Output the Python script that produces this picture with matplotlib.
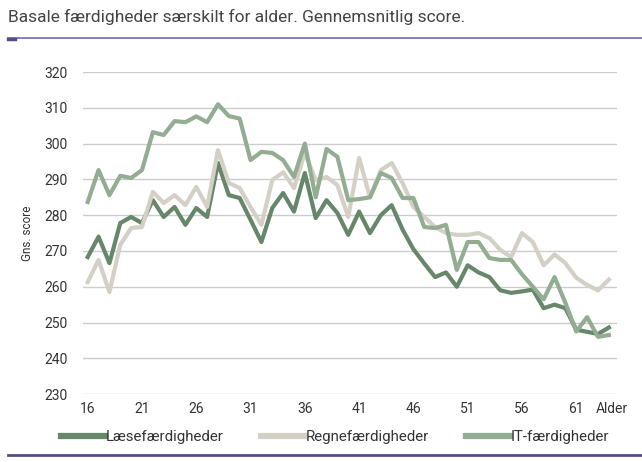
import numpy as np
import matplotlib
matplotlib.use("Agg")
import matplotlib.pyplot as plt
from matplotlib.lines import Line2D

plt.rcParams['font.family'] = ['Roboto', 'DejaVu Sans']

# data
ages = list(range(16, 65))
laese = [268.3, 274.0, 266.6, 277.8, 279.5, 277.8, 284.2, 279.5, 282.3, 277.3,
         282.0, 279.5, 294.6, 285.6, 284.8, 278.7, 272.5, 282.0, 286.2, 281.0,
         291.8, 279.2, 284.2, 280.6, 274.5, 281.0, 275.0, 280.0, 282.8, 276.0,
         270.5, 266.5, 262.7, 264.0, 260.0, 266.0, 264.0, 262.7, 259.0, 258.3,
         258.7, 259.2, 254.0, 255.0, 254.0, 248.0, 247.4, 246.8, 248.6]
regne = [261.3, 267.5, 258.5, 271.7, 276.4, 276.7, 286.5, 283.4, 285.6, 282.8,
         287.9, 282.3, 298.2, 289.0, 287.6, 282.3, 277.3, 289.8, 292.0, 287.6,
         297.4, 289.8, 290.7, 288.4, 279.5, 296.0, 285.0, 292.6, 294.6, 289.0,
         282.3, 279.5, 276.7, 275.0, 274.5, 274.5, 275.0, 273.6, 270.3, 268.3,
         275.0, 272.5, 266.0, 269.0, 266.6, 262.5, 260.5, 259.0, 262.0]
it = [283.7, 292.6, 285.6, 291.0, 290.4, 292.6, 303.2, 302.4, 306.3, 306.0,
      307.6, 306.0, 311.0, 307.7, 307.0, 295.4, 297.7, 297.4, 295.4, 290.7,
      300.0, 285.0, 298.5, 296.3, 284.2, 284.5, 285.0, 291.8, 290.4, 284.8,
      284.8, 276.7, 276.4, 277.3, 264.7, 272.5, 272.5, 268.0, 267.5, 267.5,
      263.5, 260.0, 256.5, 262.7, 255.5, 247.5, 251.5, 246.0, 246.5]

names = ["Læsefærdigheder", "Regnefærdigheder", "IT-færdigheder"]
colors = ["#66876a", "#d5d0c5", "#93ad92"]
xticks = [16, 21, 26, 31, 36, 41, 46, 51, 56, 61, 64.3]
xticklabels = ["16", "21", "26", "31", "36", "41", "46", "51", "56", "61", "Alder"]
yticks = list(range(230, 321, 10))

fig = plt.figure(figsize=(6.42, 4.62), dpi=100)
ax = fig.add_axes([0.129, 0.147, 0.832, 0.697])

for series, c in zip([laese, regne, it], colors):
    ax.plot(ages, series, color=c, lw=3.0, solid_joinstyle='round', zorder=3)

ax.set_xlim(15.55, 64.75)
ax.set_ylim(230, 320)
ax.set_yticks(yticks)
ax.set_xticks(xticks)
ax.set_xticklabels(xticklabels)
ax.yaxis.grid(True, color="#cccccc", lw=1.0)
ax.set_axisbelow(True)
for s in ax.spines.values():
    s.set_visible(False)
ax.tick_params(axis='y', length=0, labelsize=10, colors="#333333", pad=11)
ax.tick_params(axis='x', length=0, labelsize=10, colors="#333333", pad=6)
ax.set_ylabel("Gns. score", fontsize=8.5, color="#333333", labelpad=7)

# title and rules
fig.text(0.012, 0.963, "Basale færdigheder særskilt for alder. Gennemsnitlig score.",
         fontsize=12.5, color="#444444", va='center', ha='left')
fig.add_artist(Line2D([0.012, 1.0], [0.918, 0.918], color="#7a6aa8", lw=1.2))
fig.add_artist(Line2D([0.012, 0.023], [0.915, 0.915], color="#5a4a8a", lw=2.5))
fig.add_artist(Line2D([0.012, 1.0], [0.015, 0.015], color="#5a4a8a", lw=2.0))

handles = [Line2D([], [], color=c, lw=4.5) for c in colors]
fig.legend(handles, names, loc='center', bbox_to_anchor=(0.522, 0.054), ncol=3,
           frameon=False, fontsize=10.8, handlelength=2.9, handletextpad=0.05,
           columnspacing=2.5, labelcolor="#333333")

fig.savefig("out.png", dpi=100)
